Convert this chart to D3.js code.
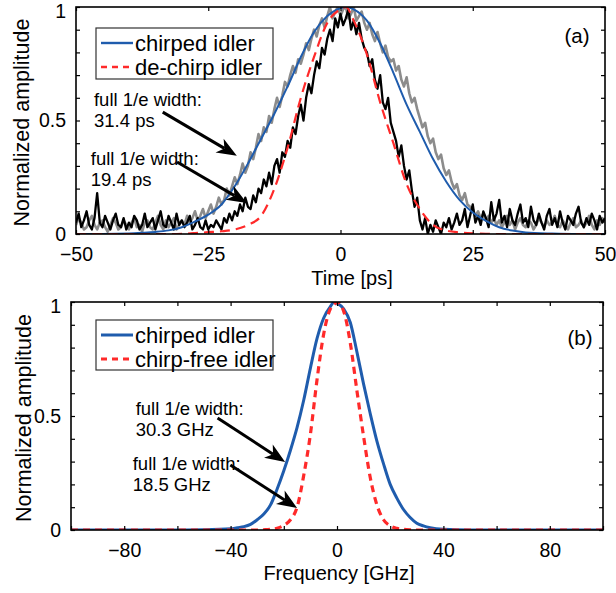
<!DOCTYPE html>
<html>
<head>
<meta charset="utf-8">
<script src="https://cdnjs.cloudflare.com/ajax/libs/d3/7.8.5/d3.min.js"></script>
<style>
  body { margin: 0; background: #fff; }
  text { font-family: "Liberation Sans", Arial, Helvetica, sans-serif; fill: #000; }
</style>
</head>
<body>
<svg id="chart" width="616" height="593"></svg>
<script>
// sampling grid of the measured traces, ps
const timeSamples = d3.range(-50, 50.001, 0.5);

// measured, chirped idler (grey)
const chirpedMeasured = [
  0.04,0.07,0.05,0.02,0.03,0.06,0.08,0.04,0.02,0.05,
  0.06,0.03,0.01,0.04,0.07,0.05,0.02,0.03,0.06,0.04,
  0.02,0.05,0.07,0.03,0.04,0.01,0.05,0.06,0.03,0.02,
  0.05,0.08,0.04,0.02,0.06,0.03,0.05,0.07,0.02,0.04,
  0.06,0.04,0.08,0.05,0.07,0.10,0.06,0.08,0.11,0.07,
  0.10,0.13,0.09,0.12,0.16,0.13,0.15,0.20,0.17,0.21,
  0.25,0.22,0.26,0.31,0.27,0.30,0.36,0.33,0.38,0.44,
  0.41,0.47,0.45,0.52,0.49,0.55,0.60,0.56,0.61,0.67,
  0.65,0.70,0.74,0.71,0.77,0.75,0.79,0.84,0.81,0.86,
  0.90,0.87,0.92,0.95,0.91,0.96,1.00,0.95,0.98,1.00,
  0.96,0.99,1.00,0.95,0.97,1.00,0.94,0.96,0.98,0.93,
  0.90,0.93,0.88,0.85,0.89,0.84,0.80,0.83,0.78,0.76,
  0.77,0.72,0.74,0.68,0.65,0.69,0.62,0.58,0.60,0.55,
  0.51,0.47,0.49,0.43,0.40,0.42,0.36,0.33,0.35,0.29,
  0.26,0.28,0.23,0.20,0.22,0.17,0.15,0.18,0.13,0.12,
  0.11,0.08,0.10,0.07,0.09,0.06,0.08,0.05,0.07,0.04,
  0.06,0.03,0.05,0.08,0.04,0.06,0.02,0.05,0.07,0.04,
  0.03,0.06,0.05,0.02,0.04,0.07,0.05,0.03,0.06,0.04,
  0.05,0.08,0.04,0.03,0.06,0.04,0.02,0.05,0.07,0.03,
  0.04,0.06,0.03,0.05,0.08,0.04,0.02,0.06,0.04,0.07,
  0.05
];

// measured, de-chirped idler (black)
const dechirpMeasured = [
  0.05,0.09,0.03,0.06,0.10,0.04,0.02,0.07,0.18,0.05,
  0.03,0.08,0.05,0.02,0.06,0.09,0.04,0.03,0.07,0.02,
  0.05,0.03,0.08,0.06,0.02,0.04,0.09,0.03,0.05,0.07,
  0.02,0.06,0.10,0.04,0.03,0.08,0.05,0.02,0.09,0.04,
  0.06,0.03,0.05,0.08,0.02,0.04,0.07,0.03,0.02,0.06,
  0.02,0.04,0.03,0.06,0.04,0.02,0.07,0.05,0.09,0.06,
  0.10,0.08,0.13,0.10,0.16,0.12,0.11,0.17,0.14,0.20,
  0.18,0.24,0.21,0.27,0.22,0.30,0.33,0.27,0.36,0.34,
  0.41,0.38,0.47,0.44,0.52,0.57,0.50,0.60,0.66,0.62,
  0.70,0.76,0.73,0.82,0.79,0.86,0.90,0.85,0.95,0.91,
  0.97,0.92,0.95,0.99,0.90,0.94,0.88,0.93,0.86,0.82,
  0.80,0.74,0.77,0.68,0.64,0.70,0.58,0.55,0.60,0.49,
  0.45,0.41,0.34,0.39,0.30,0.24,0.28,0.19,0.12,0.16,
  0.06,0.02,0.07,0.00,0.04,0.01,0.06,0.03,0.00,0.05,
  0.03,0.07,0.02,0.05,0.09,0.04,0.06,0.11,0.03,0.08,
  0.13,0.05,0.08,0.04,0.10,0.07,0.03,0.14,0.06,0.09,
  0.15,0.05,0.08,0.03,0.11,0.06,0.04,0.09,0.13,0.05,
  0.07,0.03,0.12,0.06,0.04,0.09,0.05,0.02,0.08,0.11,
  0.04,0.07,0.03,0.10,0.05,0.02,0.08,0.06,0.04,0.09,
  0.12,0.05,0.03,0.07,0.04,0.09,0.06,0.02,0.08,0.05,
  0.07
];

// fitted pulses
const fitTime = [-50,-45,-40,-37.5,-35,-32.5,-30,-27.5,-25,-22.5,-20,-17.5,-15,-12.5,-10,-7.5,-5,-2.5,0,1,
  2.5,5,7.5,10,12.5,15,17.5,20,22.5,25,27.5,30,32.5,35,40,45,50];
const chirpedFit = [0,0,0.002,0.005,0.009,0.016,0.03,0.055,0.085,0.13,0.21,0.31,0.42,0.53,0.65,0.78,0.89,0.96,0.995,1.0,
  0.99,0.94,0.84,0.71,0.57,0.45,0.33,0.23,0.15,0.095,0.058,0.03,0.015,0.007,0.002,0,0];
const dechirpFit = [0,0,0,0,0,0,0.001,0.004,0.008,0.012,0.02,0.04,0.08,0.2,0.38,0.6,0.78,0.93,0.99,1.0,
  0.94,0.79,0.58,0.4,0.22,0.11,0.04,0.015,0.007,0.003,0.001,0,0,0,0,0,0];

// spectra, GHz
const freqPoints = [-100,-60,-50,-40,-37.5,-35,-32.5,-30,-27.5,-25,-22.5,-20,-17.5,-15,-12.5,-10,-7.5,-5,-2.5,-1,0,
  2.5,5,7.5,10,12.5,15,17.5,20,22.5,25,27.5,30,32.5,35,40,50,60,100];
const chirpedSpectrum = [0,0,0.001,0.005,0.01,0.015,0.025,0.045,0.07,0.11,0.18,0.26,0.35,0.45,0.57,0.71,0.84,0.93,0.98,1.0,0.995,
  0.97,0.91,0.78,0.64,0.51,0.39,0.29,0.2,0.14,0.09,0.055,0.03,0.018,0.01,0.003,0,0,0];
const chirpFreeSpectrum = [0,0,0,0,0,0,0,0,0.001,0.003,0.008,0.02,0.045,0.1,0.24,0.42,0.66,0.86,0.97,0.99,1.0,
  0.96,0.82,0.61,0.41,0.23,0.11,0.045,0.018,0.007,0.003,0.001,0,0,0,0,0,0,0];

const timeTicks = [-50, -25, 0, 25, 50];
const freqTicks = [-100, -80, -60, -40, -20, 0, 20, 40, 60, 80, 100];
const freqLabels = [-80, -40, 0, 40, 80];
const ampTicks = [0, 0.1, 0.2, 0.3, 0.4, 0.5, 0.6, 0.7, 0.8, 0.9, 1];
const ampLabels = [0, 0.5, 1];

const topLegend = ["chirped idler", "de-chirp idler"];
const bottomLegend = ["chirped idler", "chirp-free idler"];

const topNotes = [
  { text: ["full 1/e width:", "31.4 ps"], at: [-46.6, 0.564], from: [-33.6, 0.537], to: [-19.6, 0.345] },
  { text: ["full 1/e width:", "19.4 ps"], at: [-47.2, 0.304], from: [-30.9, 0.317], to: [-17.7, 0.137] }
];
const bottomNotes = [
  { text: ["full 1/e width:", "30.3 GHz"], at: [-75.7, 0.504], from: [-44.9, 0.491], to: [-19.5, 0.298] },
  { text: ["full 1/e width:", "18.5 GHz"], at: [-76.8, 0.263], from: [-40.1, 0.285], to: [-15.0, 0.096] }
];

const BLUE = "#1f5cad";
const RED = "#ff2a2a";
const svg = d3.select("#chart");

function arrow(g, x0, y0, x1, y1) {
  const dx = x1 - x0, dy = y1 - y0;
  const len = Math.hypot(dx, dy);
  const ux = dx / len, uy = dy / len;
  const nx = -uy, ny = ux;
  const L = 20, hw = 8;
  const bx = x1 - ux * L, by = y1 - uy * L;
  const mx = x1 - ux * L * 0.72, my = y1 - uy * L * 0.72;
  g.append("line")
    .attr("x1", x0).attr("y1", y0).attr("x2", mx).attr("y2", my)
    .attr("stroke", "#000").attr("stroke-width", 3);
  g.append("path")
    .attr("d", `M${x1},${y1}L${bx + nx * hw},${by + ny * hw}L${mx},${my}L${bx - nx * hw},${by - ny * hw}Z`)
    .attr("fill", "#000");
}

function drawPanel(p) {
  const x = d3.scaleLinear().domain(p.xDomain).range([p.left, p.right]);
  const y = d3.scaleLinear().domain([0, 1]).range([p.bottom, p.top]);
  const g = svg.append("g");

  g.append("clipPath").attr("id", p.id + "clip")
    .append("rect")
    .attr("x", p.left).attr("y", p.top)
    .attr("width", p.right - p.left).attr("height", p.bottom - p.top);

  const plot = g.append("g").attr("clip-path", `url(#${p.id}clip)`);

  p.series.forEach(s => {
    const line = d3.line()
      .x((d, i) => x(s.xs[i]))
      .y(d => y(d))
      .curve(s.smooth ? d3.curveMonotoneX : d3.curveLinear);
    plot.append("path")
      .attr("d", line(s.ys))
      .attr("fill", "none")
      .attr("stroke", s.color)
      .attr("stroke-width", s.width)
      .attr("stroke-dasharray", s.dash || null)
      .attr("stroke-linejoin", "round");
  });

  // axes, ticks pointing inwards
  g.append("g").attr("transform", `translate(0,${p.bottom})`)
    .call(d3.axisBottom(x).tickValues(p.xTicks).tickSize(-4).tickPadding(13)
      .tickFormat(d => p.xLabels.includes(d) ? d3.format("")(d) : ""));
  g.append("g").attr("transform", `translate(0,${p.top})`)
    .call(d3.axisTop(x).tickValues(p.xTicks).tickSize(-4).tickFormat(""));
  g.append("g").attr("transform", `translate(${p.left},0)`)
    .call(d3.axisLeft(y).tickValues(ampTicks).tickSize(-4).tickPadding(10)
      .tickFormat(d => ampLabels.includes(d) ? d3.format("")(d) : ""));
  g.append("g").attr("transform", `translate(${p.right},0)`)
    .call(d3.axisRight(y).tickValues(ampTicks).tickSize(-4).tickFormat(""));

  g.selectAll(".domain").remove();
  g.selectAll(".tick line").attr("stroke", "#000").attr("stroke-width", 1.2);
  g.selectAll(".tick text").style("font-size", "19.5px").style("font-family", "Liberation Sans, Arial, sans-serif");
  g.selectAll(".tick text").filter(d => d === 1).attr("y", 4);

  g.append("rect")
    .attr("x", p.left).attr("y", p.top)
    .attr("width", p.right - p.left).attr("height", p.bottom - p.top)
    .attr("fill", "none").attr("stroke", "#000").attr("stroke-width", 1.6);

  g.append("text")
    .attr("transform", `translate(${p.yLabelX},${(p.top + p.bottom) / 2 + 2}) rotate(-90)`)
    .attr("text-anchor", "middle")
    .style("font-size", "21.5px")
    .text("Normalized amplitude");

  g.append("text")
    .attr("x", p.xLabelX).attr("y", p.xLabelY)
    .attr("text-anchor", "middle")
    .style("font-size", "20px")
    .text(p.xTitle);

  g.append("text")
    .attr("x", p.tagX).attr("y", p.tagY)
    .attr("text-anchor", "middle")
    .attr("dy", "0.35em")
    .style("font-size", "20.5px")
    .text(p.tag);

  // legend
  const lg = g.append("g");
  lg.append("rect")
    .attr("x", p.legend.x).attr("y", p.legend.y)
    .attr("width", p.legend.w).attr("height", p.legend.h)
    .attr("fill", "#fff").attr("stroke", "#333").attr("stroke-width", 1.2);
  p.legend.items.forEach((name, i) => {
    const s = p.series[p.legend.from + i];
    const cy = p.legend.y + 15 + i * 24;
    lg.append("line")
      .attr("x1", p.legend.x + 5).attr("x2", p.legend.x + 37)
      .attr("y1", cy).attr("y2", cy)
      .attr("stroke", s.color).attr("stroke-width", Math.max(s.width, 2.4))
      .attr("stroke-dasharray", s.dash ? p.legend.dash : null);
    lg.append("text")
      .attr("x", p.legend.x + 39).attr("y", cy)
      .attr("dy", "0.35em")
      .style("font-size", "22px")
      .text(name);
  });

  // width annotations
  p.notes.forEach(n => {
    n.text.forEach((t, i) => {
      g.append("text")
        .attr("x", x(n.at[0])).attr("y", y(n.at[1]) + i * 21)
        .style("font-size", "18.5px")
        .text(t);
    });
    arrow(g, x(n.from[0]), y(n.from[1]), x(n.to[0]), y(n.to[1]));
  });
}

drawPanel({
  id: "a", left: 76, right: 605, top: 7, bottom: 234,
  xDomain: [-50, 50], xTicks: timeTicks, xLabels: timeTicks,
  xTitle: "Time [ps]", xLabelX: 352, xLabelY: 285, yLabelX: 29,
  tag: "(a)", tagX: 577, tagY: 36,
  series: [
    { xs: timeSamples, ys: chirpedMeasured, color: "#8c8c8c", width: 2.6 },
    { xs: timeSamples, ys: dechirpMeasured, color: "#000", width: 2.3 },
    { xs: fitTime, ys: chirpedFit, color: BLUE, width: 2, smooth: true },
    { xs: fitTime, ys: dechirpFit, color: RED, width: 2.2, dash: "10,6", smooth: true }
  ],
  legend: { x: 96, y: 28, w: 177, h: 51, items: topLegend, from: 2, dash: "6,5" },
  notes: topNotes
});

drawPanel({
  id: "b", left: 71, right: 603, top: 302, bottom: 530,
  xDomain: [-100, 100], xTicks: freqTicks, xLabels: freqLabels,
  xTitle: "Frequency [GHz]", xLabelX: 339, xLabelY: 580, yLabelX: 31,
  tag: "(b)", tagX: 580, tagY: 338,
  series: [
    { xs: freqPoints, ys: chirpedSpectrum, color: BLUE, width: 3, smooth: true },
    { xs: freqPoints, ys: chirpFreeSpectrum, color: RED, width: 3.2, dash: "7,5", smooth: true }
  ],
  legend: { x: 96, y: 320, w: 177, h: 50, items: bottomLegend, from: 0, dash: "6,5" },
  notes: bottomNotes
});
</script>
</body>
</html>
